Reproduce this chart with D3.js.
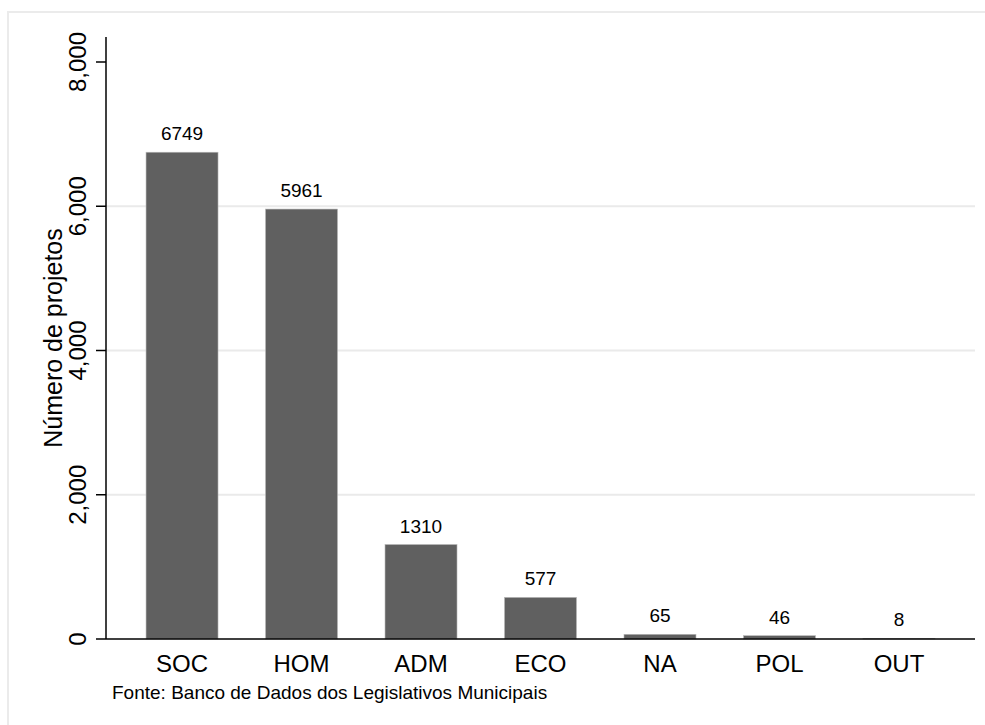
<!DOCTYPE html>
<html>
<head>
<meta charset="utf-8">
<script src="https://cdn.jsdelivr.net/npm/d3@7"></script>
<style>
  html, body { margin: 0; padding: 0; background: #fff; }
  svg { display: block; font-family: "Liberation Sans", Arial, sans-serif; }
</style>
</head>
<body>
<svg id="chart" width="985" height="725"></svg>
<script>
// Projects by theme
const categories = ["SOC", "HOM", "ADM", "ECO", "NA", "POL", "OUT"];
const counts = [6749, 5961, 1310, 577, 65, 46, 8];
const yTicks = [0, 2000, 4000, 6000, 8000];
const gridTicks = [2000, 4000, 6000];
const yTitle = "Número de projetos";
const note = "Fonte: Banco de Dados dos Legislativos Municipais";

const svg = d3.select("#chart");
const plotLeft = 106, plotRight = 975, plotBottom = 639, plotTop = 62, axisTop = 37;

// Outer frame of the figure
svg.append("rect")
  .attr("x", 8).attr("y", 12)
  .attr("width", 1000).attr("height", 1000)
  .attr("fill", "#fff")
  .attr("stroke", "#ebebeb").attr("stroke-width", 2);

const x = d3.scaleBand()
  .domain(categories)
  .range([plotLeft, plotRight])
  .paddingInner(0.3975)
  .paddingOuter(0.335);

const y = d3.scaleLinear().domain([0, 8000]).range([plotBottom, plotTop]);

// Horizontal gridlines
svg.append("g").selectAll("line")
  .data(gridTicks).join("line")
  .attr("x1", plotLeft).attr("x2", plotRight)
  .attr("y1", d => y(d)).attr("y2", d => y(d))
  .attr("stroke", "#eaeaea").attr("stroke-width", 2);

// Bars
svg.append("g").selectAll("rect")
  .data(categories).join("rect")
  .attr("x", d => x(d))
  .attr("width", x.bandwidth())
  .attr("y", (d, i) => y(counts[i]))
  .attr("height", (d, i) => y(0) - y(counts[i]))
  .attr("fill", "#606060")
  .attr("stroke", "#b8b8b8").attr("stroke-width", 0.6);

// Value labels
svg.append("g").selectAll("text")
  .data(categories).join("text")
  .attr("x", d => x(d) + x.bandwidth() / 2)
  .attr("y", (d, i) => y(counts[i]) - 12)
  .attr("text-anchor", "middle")
  .attr("font-size", 19)
  .attr("fill", "#000")
  .text((d, i) => counts[i]);

// Y axis
const yAxis = svg.append("g");
yAxis.append("line")
  .attr("x1", plotLeft).attr("x2", plotLeft)
  .attr("y1", axisTop).attr("y2", plotBottom)
  .attr("stroke", "#000").attr("stroke-width", 1.5);
yAxis.selectAll("line.tick")
  .data(yTicks).join("line")
  .attr("class", "tick")
  .attr("x1", plotLeft - 10).attr("x2", plotLeft)
  .attr("y1", d => y(d)).attr("y2", d => y(d))
  .attr("stroke", "#000").attr("stroke-width", 1.5);
yAxis.selectAll("text")
  .data(yTicks).join("text")
  .attr("transform", d => `translate(${plotLeft - 20.5},${y(d)}) rotate(-90)`)
  .attr("text-anchor", "middle")
  .attr("font-size", 24)
  .attr("fill", "#000")
  .text(d => d3.format(",")(d));

// X axis
svg.append("line")
  .attr("x1", plotLeft).attr("x2", plotRight)
  .attr("y1", plotBottom).attr("y2", plotBottom)
  .attr("stroke", "#000").attr("stroke-width", 1.5);
svg.append("g").selectAll("text")
  .data(categories).join("text")
  .attr("x", d => x(d) + x.bandwidth() / 2)
  .attr("y", 672)
  .attr("text-anchor", "middle")
  .attr("font-size", 24)
  .attr("fill", "#000")
  .text(d => d);

// Axis title
svg.append("text")
  .attr("transform", `translate(62,${(axisTop + plotBottom) / 2}) rotate(-90)`)
  .attr("text-anchor", "middle")
  .attr("font-size", 25)
  .attr("fill", "#000")
  .text(yTitle);

// Source note
svg.append("text")
  .attr("x", 112).attr("y", 699)
  .attr("font-size", 19)
  .attr("fill", "#000")
  .text(note);
</script>
</body>
</html>
